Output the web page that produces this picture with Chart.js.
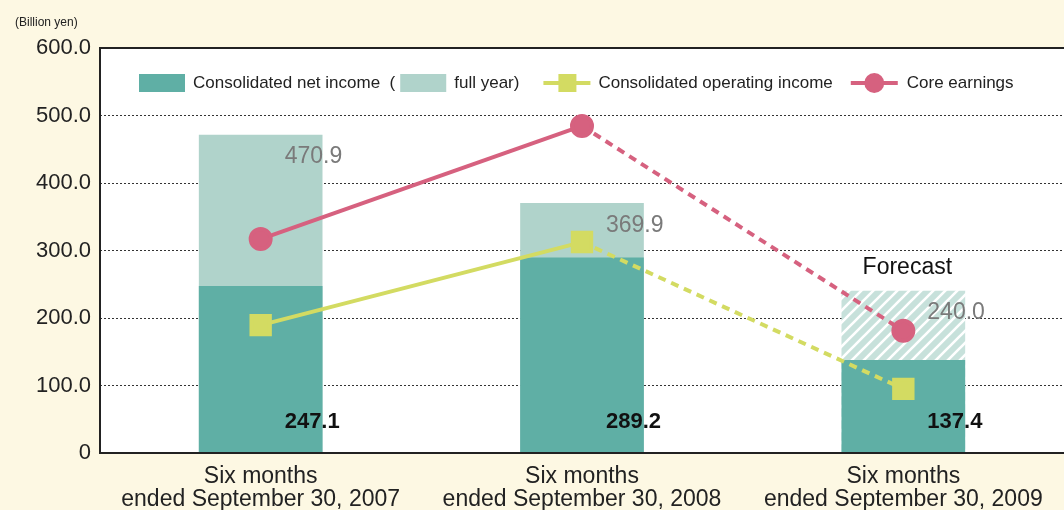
<!DOCTYPE html>
<html>
<head>
<meta charset="utf-8">
<script src="https://cdn.jsdelivr.net/npm/chart.js@4/dist/chart.umd.min.js"></script>
<style>
  html, body { margin: 0; padding: 0; background: #fdf8e3; overflow: hidden; }
  #wrap { width: 1064px; height: 510px; }
  canvas { display: block; }
</style>
</head>
<body>
<div id="wrap"><canvas id="chart" width="1064" height="510"></canvas></div>
<script>
// data (billion yen)
const periods = [
  ['Six months', 'ended September 30, 2007'],
  ['Six months', 'ended September 30, 2008'],
  ['Six months', 'ended September 30, 2009']
];
const netIncome = [247.1, 289.2, 137.4];
const fullYear = [470.9, 369.9, 240.0];
const operatingIncome = [189.5, 312.5, 95.0];
const coreEarnings = [317.0, 484.5, 181.0];
const yTicks = [0, 100, 200, 300, 400, 500, 600];

const teal = '#5fafa5';
const tealLight = '#b0d3cb';
const lime = '#d3db62';
const pink = '#d6617f';
const cream = '#fdf8e3';

// hatched fill for the forecast bar
function makeHatch() {
  const c = document.createElement('canvas');
  c.width = 12; c.height = 12;
  const g = c.getContext('2d');
  g.fillStyle = '#c7e1db';
  g.fillRect(0, 0, 12, 12);
  g.strokeStyle = '#ffffff';
  g.lineWidth = 2.6;
  g.beginPath();
  g.moveTo(-3, 15); g.lineTo(15, -3);
  g.moveTo(-9, 9); g.lineTo(9, -9);
  g.moveTo(3, 21); g.lineTo(21, 3);
  g.stroke();
  return g.createPattern(c, 'repeat');
}
const hatch = makeHatch();

const backdrop = {
  id: 'backdrop',
  beforeDraw(chart) {
    const { ctx, chartArea: a } = chart;
    ctx.save();
    ctx.fillStyle = cream;
    ctx.fillRect(0, 0, chart.width, chart.height);
    ctx.fillStyle = '#ffffff';
    ctx.fillRect(a.left, a.top, a.right - a.left, a.bottom - a.top);
    ctx.restore();
  },
  afterDraw(chart) {
    const { ctx, chartArea: a } = chart;
    ctx.save();
    // frame
    ctx.strokeStyle = '#222';
    ctx.lineWidth = 2;
    ctx.beginPath();
    ctx.moveTo(a.right + 2, a.top);
    ctx.lineTo(a.left, a.top);
    ctx.lineTo(a.left, a.bottom);
    ctx.lineTo(a.right + 2, a.bottom);
    ctx.stroke();
    // unit
    ctx.fillStyle = '#222';
    ctx.font = '12px "Liberation Sans", sans-serif';
    ctx.textBaseline = 'middle';
    ctx.textAlign = 'left';
    ctx.fillText('(Billion yen)', 15, 23);

    // legend
    const ly = 83;
    let x = 139;
    ctx.font = '17px "Liberation Sans", sans-serif';
    ctx.fillStyle = teal;
    ctx.fillRect(x, ly - 9, 46, 18);
    x += 54;
    ctx.fillStyle = '#222';
    let t = 'Consolidated net income  (';
    ctx.fillText(t, x, ly);
    x += ctx.measureText(t).width + 5;
    ctx.fillStyle = tealLight;
    ctx.fillRect(x, ly - 9, 46, 18);
    x += 54;
    ctx.fillStyle = '#222';
    t = 'full year)';
    ctx.fillText(t, x, ly);
    x += ctx.measureText(t).width + 24;
    // lime line + square
    ctx.strokeStyle = lime; ctx.lineWidth = 4;
    ctx.beginPath(); ctx.moveTo(x, ly); ctx.lineTo(x + 47, ly); ctx.stroke();
    ctx.fillStyle = lime;
    ctx.fillRect(x + 15, ly - 9, 18, 18);
    x += 55;
    ctx.fillStyle = '#222';
    t = 'Consolidated operating income';
    ctx.fillText(t, x, ly);
    x += ctx.measureText(t).width + 18;
    ctx.strokeStyle = pink;
    ctx.beginPath(); ctx.moveTo(x, ly); ctx.lineTo(x + 47, ly); ctx.stroke();
    ctx.fillStyle = pink;
    ctx.beginPath(); ctx.arc(x + 23.5, ly, 10, 0, Math.PI * 2); ctx.fill();
    x += 56;
    ctx.fillStyle = '#222';
    ctx.fillText('Core earnings', x, ly);
    ctx.restore();
  }
};

const valueLabels = {
  id: 'valueLabels',
  afterDatasetsDraw(chart) {
    const { ctx, chartArea: a } = chart;
    ctx.save();
    ctx.textBaseline = 'middle';
    ctx.textAlign = 'left';
    const fullMeta = chart.getDatasetMeta(0);
    const netMeta = chart.getDatasetMeta(1);
    ctx.font = '23px "Liberation Sans", Arial, sans-serif';
    ctx.fillStyle = '#7a7a7a';
    fullMeta.data.forEach((bar, i) => {
      ctx.fillText(fullYear[i].toFixed(1), bar.x + 24, bar.y + 22);
    });
    ctx.font = 'bold 22px "Liberation Sans", Arial, sans-serif';
    ctx.fillStyle = '#111';
    netMeta.data.forEach((bar, i) => {
      ctx.fillText(netIncome[i].toFixed(1), bar.x + 24, a.bottom - 31);
    });
    const last = fullMeta.data[fullMeta.data.length - 1];
    ctx.font = '23px "Liberation Sans", Arial, sans-serif';
    ctx.textAlign = 'center';
    ctx.fillText('Forecast', last.x + 4, last.y - 23);
    ctx.restore();
  }
};

const dashed = ctx => ctx.p1DataIndex === 2 ? [8, 6] : undefined;

new Chart(document.getElementById('chart'), {
  type: 'bar',
  data: {
    labels: periods,
    datasets: [
      {
        label: 'full year',
        data: fullYear,
        backgroundColor: [tealLight, tealLight, hatch],
        grouped: false,
        barThickness: 123,
        order: 3
      },
      {
        label: 'Consolidated net income',
        data: netIncome,
        backgroundColor: teal,
        grouped: false,
        barThickness: 123,
        order: 2
      },
      {
        type: 'line',
        label: 'Consolidated operating income',
        data: operatingIncome,
        borderColor: lime,
        backgroundColor: lime,
        borderWidth: 4,
        pointStyle: 'rect',
        pointRadius: 13,
        pointHoverRadius: 13,
        segment: { borderDash: dashed },
        order: 1
      },
      {
        type: 'line',
        label: 'Core earnings',
        data: coreEarnings,
        borderColor: pink,
        backgroundColor: pink,
        borderWidth: 4,
        pointStyle: 'circle',
        pointRadius: 10,
        pointHoverRadius: 10,
        segment: { borderDash: dashed },
        order: 0
      }
    ]
  },
  options: {
    responsive: false,
    animation: false,
    layout: { autoPadding: false, padding: { top: 48, left: 0, right: -8, bottom: 0 } },
    plugins: {
      legend: { display: false },
      tooltip: { enabled: false }
    },
    scales: {
      x: {
        grid: { display: false },
        border: { display: false },
        ticks: {
          color: '#222',
          padding: 4,
          maxRotation: 0,
          font: { family: '"Liberation Sans", sans-serif', size: 23, lineHeight: 1.0 }
        },
        afterFit(scale) {
          scale.height = 57;
          scale.paddingLeft = 0;
          scale.paddingRight = 0;
        }
      },
      y: {
        min: 0,
        max: 600,
        afterBuildTicks(scale) { scale.ticks = yTicks.map(v => ({ value: v })); },
        grid: {
          drawTicks: false,
          color: ctx => (ctx.tick && (ctx.tick.value === 0 || ctx.tick.value === 600)) ? 'rgba(0,0,0,0)' : '#333',
          lineWidth: 1
        },
        border: { display: false, dash: [2, 2] },
        ticks: {
          color: '#222',
          padding: 9,
          font: { family: '"Liberation Sans", Arial, sans-serif', size: 22 },
          callback: v => v === 0 ? '0' : v.toFixed(1)
        },
        afterFit(scale) { scale.width = 100; }
      }
    }
  },
  plugins: [backdrop, valueLabels]
});
</script>
</body>
</html>
